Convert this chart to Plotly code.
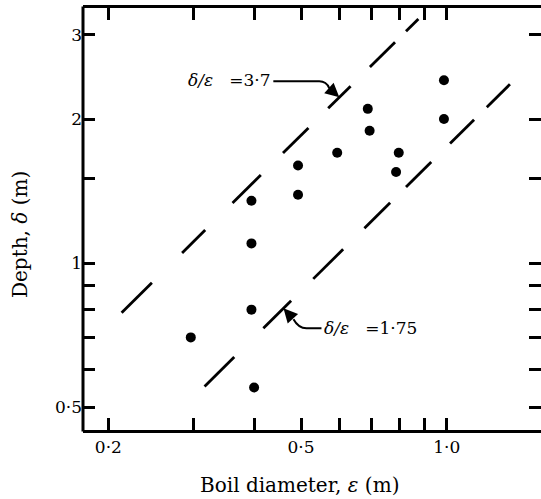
import numpy as np
import plotly.graph_objects as go

# Field observations: boil diameter (m) and depth (m)
boil_diam = [0.296, 0.395, 0.395, 0.395, 0.400, 0.493, 0.493, 0.594,
             0.687, 0.693, 0.796, 0.786, 0.987, 0.987]
boil_depth = [0.70, 1.35, 1.10, 0.80, 0.55, 1.60, 1.39, 1.70,
              2.10, 1.89, 1.70, 1.55, 2.41, 2.00]

# Depth/diameter ratios of the two bounding lines
ratio_upper = 3.7
ratio_lower = 1.75

# Diameter at the start and end of each (hand drawn) dash
upper_dash_start = [0.213, 0.284, 0.361, 0.459, 0.569, 0.694, 0.824]
upper_dash_end = [0.246, 0.317, 0.413, 0.518, 0.633, 0.782, 0.874]
lower_dash_start = [0.316, 0.418, 0.530, 0.676, 0.824, 1.016, 1.210]
lower_dash_end = [0.364, 0.477, 0.611, 0.764, 0.929, 1.139, 1.351]

# Diameter where each label arrow touches its line
upper_arrow_diam = 0.60
lower_arrow_diam = 0.46

x_ticks = [0.2, 0.3, 0.4, 0.5, 0.6, 0.7, 0.8, 0.9, 1.0]
x_ticktext = ['0·2', '', '', '0·5', '', '', '', '', '1·0']
y_ticks = [0.5, 0.6, 0.7, 0.8, 0.9, 1.0, 1.5, 2.0, 3.0]
y_ticktext = ['0·5', '', '', '', '', '1', '', '2', '3']

FONT = 'DejaVu Serif'
W, H = 541, 499
L, R, T, B = 83, 0, 8, 69
PW, PH = W - L - R, H - T - B
x_range = [-0.7514, 0.1948]
y_range = [-0.3482, 0.5328]


def dashes(starts, ends, ratio):
    xs, ys = [], []
    for s, e in zip(starts, ends):
        xs += [s, e, None]
        ys += [ratio * s, ratio * e, None]
    return xs, ys


def to_paper(eps, dep):
    px = (np.log10(eps) - x_range[0]) / (x_range[1] - x_range[0])
    py = (np.log10(dep) - y_range[0]) / (y_range[1] - y_range[0])
    return px, py


def path_from_tip(tip, pts):
    # pts are pixel offsets (right, down) from the arrow tip
    bx, by = tip
    out = []
    for cmd, coords in pts:
        s = cmd
        for dx, dy in coords:
            s += ' %.5f,%.5f' % (bx + dx / PW, by - dy / PH)
        out.append(s)
    return ' '.join(out)


ux, uy = dashes(upper_dash_start, upper_dash_end, ratio_upper)
lx, ly = dashes(lower_dash_start, lower_dash_end, ratio_lower)

fig = go.Figure()
line_style = dict(color='black', width=2.8)
fig.add_trace(go.Scatter(x=ux, y=uy, mode='lines', line=line_style,
                         showlegend=False, hoverinfo='skip'))
fig.add_trace(go.Scatter(x=lx, y=ly, mode='lines', line=line_style,
                         showlegend=False, hoverinfo='skip'))
fig.add_trace(go.Scatter(x=boil_diam, y=boil_depth, mode='markers',
                         marker=dict(color='black', size=10),
                         showlegend=False))

# Label arrows
up_tip = (upper_arrow_diam, ratio_upper * upper_arrow_diam)
lo_tip = (lower_arrow_diam, ratio_lower * lower_arrow_diam)
up_paper = to_paper(*up_tip)
lo_paper = to_paper(*lo_tip)

connector = dict(type='path', xref='paper', yref='paper',
                 line=dict(color='black', width=2))
fig.add_shape(path=path_from_tip(up_paper, [
    ('M', [(-66, -16)]), ('L', [(-20, -16)]),
    ('Q', [(-13, -16), (-10, -9)])]), **connector)
fig.add_shape(path=path_from_tip(lo_paper, [
    ('M', [(10, 11)]), ('Q', [(15, 20), (23, 20)]),
    ('L', [(38, 20)])]), **connector)

# left frame line (the right one lies just past the picture edge)
fig.add_shape(type='line', xref='paper', yref='paper', x0=0, x1=0,
              y0=-1.5 / PH, y1=1 + 1.5 / PH,
              line=dict(color='black', width=3))

for tip, ax, ay in [(up_tip, -10, -9), (lo_tip, 10, 11)]:
    fig.add_annotation(x=np.log10(tip[0]), y=np.log10(tip[1]), xref='x', yref='y',
                       text='', showarrow=True, ax=ax, ay=ay, arrowhead=2,
                       arrowsize=1.4, arrowwidth=2, arrowcolor='black')

fig.add_annotation(x=np.log10(up_tip[0]), y=np.log10(up_tip[1]), xref='x', yref='y',
                   text='<i>δ/ε</i>\u00a0\u00a0 =3·7', showarrow=False,
                   xanchor='right', yanchor='middle', xshift=-66, yshift=17,
                   font=dict(family=FONT, size=17, color='black'))
fig.add_annotation(x=np.log10(lo_tip[0]), y=np.log10(lo_tip[1]), xref='x', yref='y',
                   text='<i>δ/ε</i>\u00a0\u00a0 =1·75', showarrow=False,
                   xanchor='left', yanchor='middle', xshift=39, yshift=-20,
                   font=dict(family=FONT, size=17, color='black'))

# Axis titles
fig.add_annotation(x=(299 - L) / PW, y=-(485 - (H - B)) / PH, xref='paper', yref='paper',
                   text='Boil diameter, <i>ε</i> (m)', showarrow=False,
                   xanchor='center', yanchor='middle',
                   font=dict(family=FONT, size=20, color='black'))
fig.add_annotation(x=(19.5 - L) / PW, y=((H - B) - 234.5) / PH, xref='paper', yref='paper',
                   text='Depth, <i>δ</i> (m)', showarrow=False, textangle=-90,
                   xanchor='center', yanchor='middle',
                   font=dict(family=FONT, size=20, color='black'))

axis_common = dict(type='log', linecolor='black', linewidth=3,
                   mirror='ticks', ticks='inside', ticklen=12, tickwidth=2.5,
                   tickcolor='black', showgrid=False, zeroline=False,
                   tickfont=dict(family=FONT, size=17, color='black'))
fig.update_xaxes(range=x_range, tickvals=x_ticks, ticktext=x_ticktext,
                 showline=True, **axis_common)
fig.update_yaxes(range=y_range, tickvals=y_ticks, ticktext=y_ticktext,
                 showline=False, **axis_common)

fig.update_layout(width=W, height=H, margin=dict(l=L, r=R, t=T, b=B),
                  paper_bgcolor='white', plot_bgcolor='white',
                  font=dict(family=FONT, color='black'))

# drop the page's default body margin so the figure sits at the window corner
fig.write_html("out.html", config={'displayModeBar': False},
               post_script="document.body.style.margin='0px';")
